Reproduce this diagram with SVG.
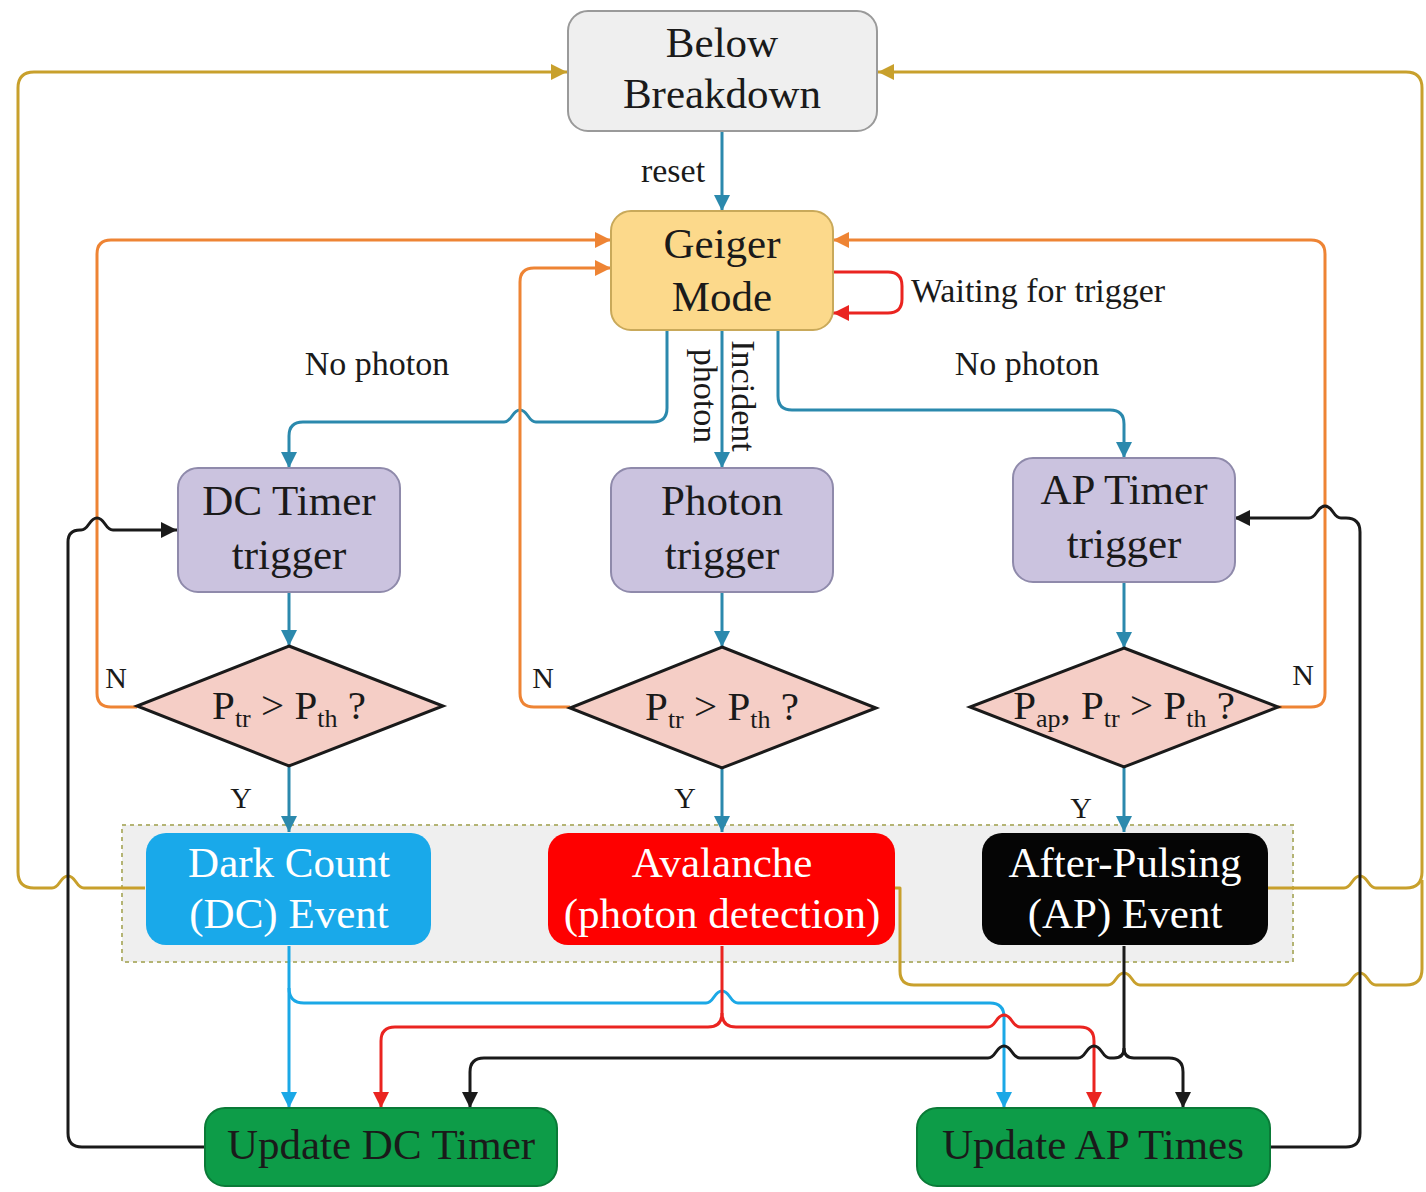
<svg xmlns="http://www.w3.org/2000/svg" width="1426" height="1192" viewBox="0 0 1426 1192">
<defs>
<style>
text{font-family:"Liberation Serif","Times New Roman",serif;fill:#1a1a1a}
.nt{font-size:43px;text-anchor:middle}
.wt{fill:#ffffff}
.lb{font-size:34px}
.yn{font-size:30px;text-anchor:middle}
.dt{font-size:41px;text-anchor:middle}
.sub{font-size:26px}
.c{fill:none;stroke-width:3;stroke-linejoin:round}
.teal{stroke:#2b89ad}
.orange{stroke:#ee8434}
.gold{stroke:#c8a02c}
.red{stroke:#ea2420}
.blue{stroke:#1ba8e6}
.black{stroke:#1a1a1a}
.dia{fill:#f5cec6;stroke:#1a1a1a;stroke-width:3}
.tim{fill:#cbc3df;stroke:#8f8aab;stroke-width:2}
.upd{fill:#0d9c48;stroke:#0a7a37;stroke-width:2}
</style>
<marker id="aT" viewBox="0 0 10 10" refX="10" refY="5" markerWidth="16" markerHeight="16" markerUnits="userSpaceOnUse" orient="auto"><path d="M0,0 L10,5 L0,10 z" fill="#2b89ad"/></marker>
<marker id="aO" viewBox="0 0 10 10" refX="10" refY="5" markerWidth="16" markerHeight="16" markerUnits="userSpaceOnUse" orient="auto"><path d="M0,0 L10,5 L0,10 z" fill="#ee8434"/></marker>
<marker id="aG" viewBox="0 0 10 10" refX="10" refY="5" markerWidth="16" markerHeight="16" markerUnits="userSpaceOnUse" orient="auto"><path d="M0,0 L10,5 L0,10 z" fill="#c8a02c"/></marker>
<marker id="aR" viewBox="0 0 10 10" refX="10" refY="5" markerWidth="16" markerHeight="16" markerUnits="userSpaceOnUse" orient="auto"><path d="M0,0 L10,5 L0,10 z" fill="#ea2420"/></marker>
<marker id="aB" viewBox="0 0 10 10" refX="10" refY="5" markerWidth="16" markerHeight="16" markerUnits="userSpaceOnUse" orient="auto"><path d="M0,0 L10,5 L0,10 z" fill="#1ba8e6"/></marker>
<marker id="aK" viewBox="0 0 10 10" refX="10" refY="5" markerWidth="16" markerHeight="16" markerUnits="userSpaceOnUse" orient="auto"><path d="M0,0 L10,5 L0,10 z" fill="#1a1a1a"/></marker>
</defs>
<rect width="1426" height="1192" fill="#ffffff"/>

<g id="event-group">
<rect x="122" y="825" width="1171" height="137" fill="#efefef" stroke="#b4b474" stroke-width="2" stroke-dasharray="4,4"/>
</g>

<g id="connectors">
<path class="c teal" d="M722,131 V211" marker-end="url(#aT)"/>
<path class="c teal" d="M667,330 V408 Q667,422 653,422 H536 C528,422 528,410 520,410 C512,410 512,422 504,422 H303 Q289,422 289,436 V468" marker-end="url(#aT)"/>
<path class="c teal" d="M722,330 V468" marker-end="url(#aT)"/>
<path class="c teal" d="M778,330 V396 Q778,410 792,410 H1110 Q1124,410 1124,424 V458" marker-end="url(#aT)"/>
<path class="c teal" d="M289,592 V646" marker-end="url(#aT)"/>
<path class="c teal" d="M722,592 V647" marker-end="url(#aT)"/>
<path class="c teal" d="M1124,582 V648" marker-end="url(#aT)"/>
<path class="c teal" d="M289,766 V832" marker-end="url(#aT)"/>
<path class="c teal" d="M722,768 V832" marker-end="url(#aT)"/>
<path class="c teal" d="M1124,767 V832" marker-end="url(#aT)"/>
<path class="c orange" d="M137,707 H111 Q97,707 97,693 V254 Q97,240 111,240 H611" marker-end="url(#aO)"/>
<path class="c orange" d="M570,707 H534 Q520,707 520,693 V282 Q520,268 534,268 H611" marker-end="url(#aO)"/>
<path class="c orange" d="M1278,707 H1311 Q1325,707 1325,693 V254 Q1325,240 1311,240 H833" marker-end="url(#aO)"/>
<path class="c red" d="M833,272 H888 Q902,272 902,286 V299 Q902,313 888,313 H833" marker-end="url(#aR)"/>
<path class="c gold" d="M145,888 H84 C76,888 76,876 68,876 C60,876 60,888 52,888 H34 Q18,888 18,872 V88 Q18,72 34,72 H567" marker-end="url(#aG)"/>
<path class="c gold" d="M1268,888 H1344 C1352,888 1352,876 1360,876 C1368,876 1368,888 1376,888 H1406 Q1422,888 1422,872 V88 Q1422,72 1406,72 H878" marker-end="url(#aG)"/>
<path class="c gold" d="M895,888 H900 V971 Q900,985 914,985 H1108 C1116,985 1116,973 1124,973 C1132,973 1132,985 1140,985 H1344 C1352,985 1352,973 1360,973 C1368,973 1368,985 1376,985 H1406 Q1422,985 1422,969 V880"/>
<path class="c blue" d="M289,946 V1108" marker-end="url(#aB)"/>
<path class="c blue" d="M289,988 Q289,1003 304,1003 H706 C714,1003 714,991 722,991 C730,991 730,1003 738,1003 H990 Q1004,1003 1004,1017 V1108" marker-end="url(#aB)"/>
<path class="c red" d="M722,946 V1013 Q722,1027 708,1027 H395 Q381,1027 381,1041 V1108" marker-end="url(#aR)"/>
<path class="c red" d="M722,1013 Q722,1027 736,1027 H988 C996,1027 996,1015 1004,1015 C1012,1015 1012,1027 1020,1027 H1080 Q1094,1027 1094,1041 V1108" marker-end="url(#aR)"/>
<path class="c black" d="M1124,946 V1048 Q1124,1058 1114,1058 H1110 C1102,1058 1102,1046 1094,1046 C1086,1046 1086,1058 1078,1058 H1020 C1012,1058 1012,1046 1004,1046 C996,1046 996,1058 988,1058 H484 Q470,1058 470,1072 V1108" marker-end="url(#aK)"/>
<path class="c black" d="M1124,1048 Q1124,1058 1134,1058 H1169 Q1183,1058 1183,1072 V1108" marker-end="url(#aK)"/>
<path class="c black" d="M205,1147 H82 Q68,1147 68,1133 V542 Q68,530 80,530 H81 C89,530 89,518 97,518 C105,518 105,530 113,530 H177" marker-end="url(#aK)"/>
<path class="c black" d="M1270,1147 H1346 Q1360,1147 1360,1133 V532 Q1360,518 1346,518 H1341 C1333,518 1333,506 1325,506 C1317,506 1317,518 1309,518 H1234" marker-end="url(#aK)"/>
</g>

<g id="labels">
<text class="lb" x="673" y="182" text-anchor="middle">reset</text>
<text class="lb" x="377" y="375" text-anchor="middle">No photon</text>
<text class="lb" x="1027" y="375" text-anchor="middle">No photon</text>
<text class="lb" x="911" y="302">Waiting for trigger</text>
<text class="lb" text-anchor="middle" transform="translate(732,396) rotate(90)">Incident</text>
<text class="lb" text-anchor="middle" transform="translate(694,396) rotate(90)">photon</text>
<text class="yn" x="116" y="688">N</text>
<text class="yn" x="543" y="688">N</text>
<text class="yn" x="1303" y="685">N</text>
<text class="yn" x="241" y="808">Y</text>
<text class="yn" x="685" y="808">Y</text>
<text class="yn" x="1081" y="818">Y</text>
</g>

<g id="below-breakdown">
<rect x="568" y="11" width="309" height="120" rx="20" fill="#efefef" stroke="#9a9a9a" stroke-width="2"/>
<text class="nt" x="722" y="57">Below</text>
<text class="nt" x="722" y="108">Breakdown</text>
</g>

<g id="geiger-mode">
<rect x="611" y="211" width="222" height="119" rx="20" fill="#fcd98b" stroke="#c9a95a" stroke-width="2"/>
<text class="nt" x="722" y="258">Geiger</text>
<text class="nt" x="722" y="311">Mode</text>
</g>

<g id="dc-timer-trigger">
<rect class="tim" x="178" y="468" width="222" height="124" rx="20"/>
<text class="nt" x="289" y="515">DC Timer</text>
<text class="nt" x="289" y="569">trigger</text>
</g>

<g id="photon-trigger">
<rect class="tim" x="611" y="468" width="222" height="124" rx="20"/>
<text class="nt" x="722" y="515">Photon</text>
<text class="nt" x="722" y="569">trigger</text>
</g>

<g id="ap-timer-trigger">
<rect class="tim" x="1013" y="458" width="222" height="124" rx="20"/>
<text class="nt" x="1124" y="504">AP Timer</text>
<text class="nt" x="1124" y="558">trigger</text>
</g>

<g id="dc-decision">
<polygon class="dia" points="289,646 443,706 289,766 137,706"/>
<text class="dt" x="289" y="719">P<tspan class="sub" dy="8">tr</tspan><tspan dy="-8"> &gt; P</tspan><tspan class="sub" dy="8">th</tspan><tspan dy="-8"> ?</tspan></text>
</g>

<g id="photon-decision">
<polygon class="dia" points="722,647 876,708 722,768 570,708"/>
<text class="dt" x="722" y="720">P<tspan class="sub" dy="8">tr</tspan><tspan dy="-8"> &gt; P</tspan><tspan class="sub" dy="8">th</tspan><tspan dy="-8"> ?</tspan></text>
</g>

<g id="ap-decision">
<polygon class="dia" points="1124,648 1278,707 1124,767 970,707"/>
<text class="dt" x="1124" y="719">P<tspan class="sub" dy="8">ap</tspan><tspan dy="-8">, P</tspan><tspan class="sub" dy="8">tr</tspan><tspan dy="-8"> &gt; P</tspan><tspan class="sub" dy="8">th</tspan><tspan dy="-8"> ?</tspan></text>
</g>

<g id="dark-count-event">
<rect x="146" y="833" width="285" height="112" rx="20" fill="#19a9ea"/>
<text class="nt wt" x="289" y="877">Dark Count</text>
<text class="nt wt" x="289" y="928">(DC) Event</text>
</g>

<g id="avalanche">
<rect x="548" y="833" width="347" height="112" rx="20" fill="#fe0000"/>
<text class="nt wt" x="722" y="877">Avalanche</text>
<text class="nt wt" x="722" y="928">(photon detection)</text>
</g>

<g id="after-pulsing-event">
<rect x="982" y="833" width="286" height="112" rx="20" fill="#050505"/>
<text class="nt wt" x="1125" y="877">After-Pulsing</text>
<text class="nt wt" x="1125" y="928">(AP) Event</text>
</g>

<g id="update-dc-timer">
<rect class="upd" x="205" y="1108" width="352" height="78" rx="20"/>
<text class="nt" x="381" y="1159">Update DC Timer</text>
</g>

<g id="update-ap-times">
<rect class="upd" x="917" y="1108" width="353" height="78" rx="20"/>
<text class="nt" x="1093" y="1159">Update AP Times</text>
</g>
</svg>
